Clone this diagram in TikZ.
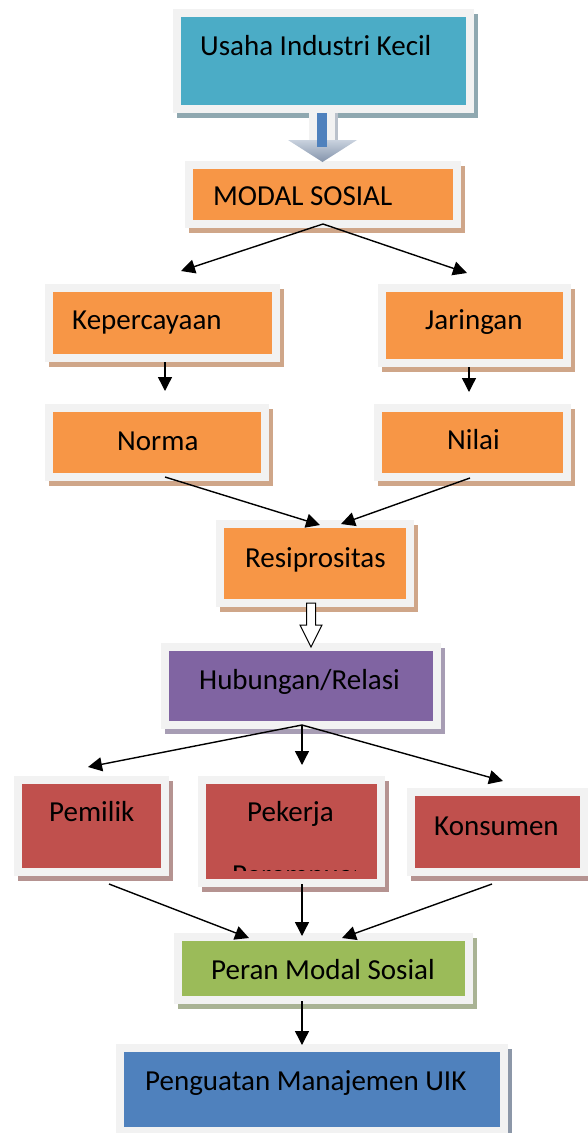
\documentclass[tikz,border=0pt]{standalone}
\usepackage{fontspec}
\setmainfont{Carlito}
\usetikzlibrary{arrows.meta,calc}

\definecolor{framegray}{HTML}{F2F2F2}
\definecolor{uikteal}{HTML}{4BACC6}
\definecolor{tealshade}{HTML}{8FA8B0}
\definecolor{uikorange}{HTML}{F79646}
\definecolor{orangeshade}{HTML}{CFA689}
\definecolor{uikpurple}{HTML}{8064A2}
\definecolor{purpleshade}{HTML}{A79DB4}
\definecolor{uikred}{HTML}{C0504D}
\definecolor{redshade}{HTML}{B59391}
\definecolor{uikgreen}{HTML}{9BBB59}
\definecolor{greenshade}{HTML}{A9B394}
\definecolor{uikblue}{HTML}{4F81BD}
\definecolor{blueshade}{HTML}{8C97A8}
\definecolor{headtop}{HTML}{C9D2DE}
\definecolor{headbot}{HTML}{8393AB}

\tikzset{
  box/.style 2 args={draw=framegray, line width=8pt, fill=#1, inner sep=0pt,
    preaction={draw=#2, fill=#2, line width=8pt, transform canvas={shift={(4pt,-5pt)}}}},
  lbl/.style={anchor=base west, inner sep=0pt, font=\fontsize{29}{35}\selectfont},
  arr/.style={-{Triangle[length=14pt,width=14pt]}, line width=1.4pt},
}

\begin{document}
\begin{tikzpicture}[x=1pt,y=-1pt]
    \fill[white] (0,0) rectangle (587,1133);
    \useasboundingbox (0,0) rectangle (587,1133);

    % boxes
    \node[box={uikteal}{tealshade}, minimum width=293pt, minimum height=96pt] (usaha) at (323.5,61) {};
    \node[box={uikorange}{orangeshade}, minimum width=268pt, minimum height=59pt] (modal) at (323,194.5) {};
    \node[box={uikorange}{orangeshade}, minimum width=227pt, minimum height=70pt] (kep) at (162.5,323) {};
    \node[box={uikorange}{orangeshade}, minimum width=185pt, minimum height=75pt] (jar) at (474.5,325.5) {};
    \node[box={uikorange}{orangeshade}, minimum width=216pt, minimum height=69pt] (norma) at (157,442.5) {};
    \node[box={uikorange}{orangeshade}, minimum width=189pt, minimum height=69pt] (nilai) at (472.5,442.5) {};
    \node[box={uikorange}{orangeshade}, minimum width=190pt, minimum height=79pt] (resip) at (315,563.5) {};
    \node[box={uikpurple}{purpleshade}, minimum width=272pt, minimum height=78pt] (hub) at (301,686) {};
    \node[box={uikred}{redshade}, minimum width=147pt, minimum height=92pt] (pemilik) at (91.5,826) {};
    \node[box={uikred}{redshade}, minimum width=179pt, minimum height=103pt] (pekerja) at (291.5,831.5) {};
    \node[box={uikred}{redshade}, minimum width=173pt, minimum height=80pt] (konsumen) at (497.5,832) {};
    \node[box={uikgreen}{greenshade}, minimum width=291pt, minimum height=63pt] (peran) at (323.5,968.5) {};
    \node[box={uikblue}{blueshade}, minimum width=384pt, minimum height=83pt] (penguatan) at (312,1089.5) {};

    % labels
    \node[lbl] (t-usaha) at (200,55) {Usaha Industri Kecil};
    \node[lbl] (t-modal) at (213,205) {MODAL SOSIAL};
    \node[lbl] (t-kep) at (72,329) {Kepercayaan};
    \node[lbl] (t-jar) at (425,329) {Jaringan};
    \node[lbl] (t-norma) at (117,450) {Norma};
    \node[lbl] (t-nilai) at (447,449) {Nilai};
    \node[lbl] (t-resip) at (245,567) {Resiprositas};
    \node[lbl] (t-hub) at (199,689) {Hubungan/Relasi};
    \node[lbl] (t-pemilik) at (49,821) {Pemilik};
    \node[lbl] (t-pekerja) at (247,821) {Pekerja};
    \begin{scope}
        \clip (206,784) rectangle (355,870);
        \node[lbl] (t-perempuan) at (232,884) {Perempuan};
    \end{scope}
    \node[lbl] (t-konsumen) at (434,835) {Konsumen};
    \node[lbl] (t-peran) at (211,979) {Peran Modal Sosial};
    \node[lbl] (t-penguatan) at (145,1090) {Penguatan Manajemen UIK};

    % block arrow usaha -> modal
    \fill[blueshade!60] (313,113) rectangle (338,142);
    \fill[framegray] (309,113) rectangle (335,140);
    \shade[top color=headtop, bottom color=headbot] (288,140) -- (357,140) -- (322.5,162) -- cycle;
    \fill[uikblue] (317,113) rectangle (327,147);

    % hollow arrow resip -> hub
    \draw[line width=1pt, fill=white] (306.5,603) -- (306.5,625) -- (300,625) -- (311,647)
        -- (322,625) -- (315.5,625) -- (315.5,603) -- cycle;

    % arrow ends
    \coordinate (kep-in) at (181,271);
    \coordinate (jar-in) at (467,273);
    \coordinate (norma-in) at (165,391);
    \coordinate (nilai-in) at (469,392);
    \coordinate (resip-l) at (320,525);
    \coordinate (resip-r) at (341,524);
    \coordinate (pemilik-in) at (88,767);
    \coordinate (pekerja-in) at (302,765);
    \coordinate (konsumen-in) at (503,781);
    \coordinate (peran-l) at (249,938);
    \coordinate (peran-m) at (302,936);
    \coordinate (peran-r) at (342,938);
    \coordinate (penguatan-in) at (302,1045);

    % connectors
    \draw[arr] ([yshift=4pt]modal.south) -- (kep-in);
    \draw[arr] ([yshift=4pt]modal.south) -- (jar-in);
    \draw[arr] ([xshift=2.5pt]kep.south) -- (norma-in);
    \draw[arr] ([xshift=-5.5pt]jar.south) -- (nilai-in);
    \draw[arr] ([xshift=8pt,yshift=4pt]norma.south) -- (resip-l);
    \draw[arr] ([xshift=-2.5pt,yshift=3pt]nilai.south) -- (resip-r);
    \foreach \t in {pemilik-in,pekerja-in,konsumen-in}
        \draw[arr] ([xshift=1pt,yshift=4pt]hub.south) -- (\t);
    \draw[arr] ([xshift=17.5pt,yshift=-8pt]pemilik.south) -- (peran-l);
    \draw[arr] ([xshift=10.5pt,yshift=3pt]pekerja.south) -- (peran-m);
    \draw[arr] ([xshift=-5.5pt,yshift=-8pt]konsumen.south) -- (peran-r);
    \draw[arr] ([xshift=-21.5pt,yshift=3pt]peran.south) -- (penguatan-in);
\end{tikzpicture}
\end{document}
